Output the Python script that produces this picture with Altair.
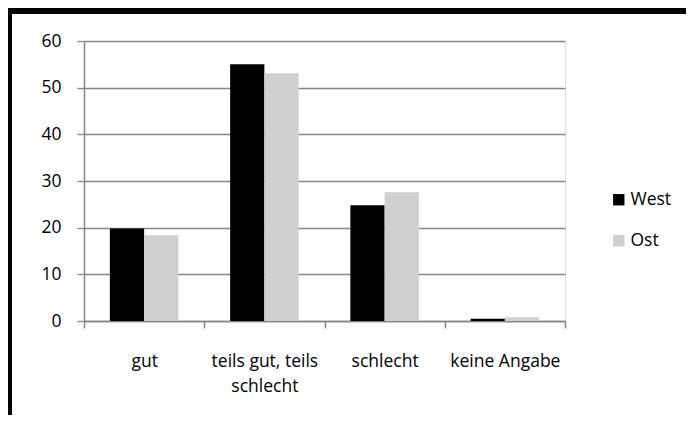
import altair as alt
import pandas as pd

categories = ["gut", "teils gut, teils schlecht", "schlecht", "keine Angabe"]
west = [19.8, 55.0, 24.8, 0.5]
ost = [18.4, 53.1, 27.6, 0.8]
series = ["West", "Ost"]
colors = ["#000000", "#d0d0d0"]

rows = []
for c, w, o in zip(categories, west, ost):
    rows.append({"Kategorie": c, "Region": "West", "Wert": w})
    rows.append({"Kategorie": c, "Region": "Ost", "Wert": o})
df = pd.DataFrame(rows)

FONT = "Open Sans"
GRID = "#868686"
FS = 17.5

bars = alt.Chart(df).mark_bar().encode(
    x=alt.X("Kategorie:N", sort=categories, title=None,
            scale=alt.Scale(paddingInner=0, paddingOuter=0),
            axis=alt.Axis(labelAngle=0, tickBand="extent", tickSize=7,
                          labelPadding=24, labelFontSize=FS, labelLineHeight=25,
                          labelExpr="datum.label == 'teils gut, teils schlecht' ? ['teils gut, teils', 'schlecht'] : datum.label",
                          domainColor=GRID, tickColor=GRID, labelColor="black",
                          labelFont=FONT, grid=False, domainWidth=1.5, tickWidth=1.5)),
    xOffset=alt.XOffset("Region:N", sort=series,
                        scale=alt.Scale(paddingInner=0, paddingOuter=0.7555)),
    y=alt.Y("Wert:Q", title=None,
            scale=alt.Scale(domain=[0, 60]),
            axis=alt.Axis(values=[0, 10, 20, 30, 40, 50, 60], tickSize=7,
                          labelPadding=16, labelFontSize=FS, labelFont=FONT,
                          labelColor="black", grid=True, gridColor=GRID, gridWidth=1.3,
                          domainColor=GRID, tickColor=GRID, domainWidth=1.5, tickWidth=1.3)),
    color=alt.Color("Region:N", sort=series,
                    scale=alt.Scale(domain=series, range=colors),
                    legend=alt.Legend(title=None, orient="none", legendX=526, legendY=150,
                                      symbolType="square", symbolSize=130,
                                      symbolStrokeWidth=0, labelFontSize=FS,
                                      labelFont=FONT, labelColor="black",
                                      rowPadding=22, labelOffset=3)),
)

one = pd.DataFrame({"a": [0]})
frame_left = alt.Chart(one).mark_rule(color="black", strokeWidth=6).encode(
    x=alt.value(-75), y=alt.value(-33), y2=alt.value(400))
frame_top = alt.Chart(one).mark_rule(color="black", strokeWidth=6).encode(
    y=alt.value(-30), x=alt.value(-78), x2=alt.value(700))

chart = alt.layer(bars, frame_left, frame_top).properties(
    width=481, height=280,
    autosize=alt.AutoSizeParams(type="none"),
    padding={"left": 76, "top": 33, "right": 121, "bottom": 94},
).configure_view(stroke=None).configure(background="white")

chart.save("out.html", embed_options={"renderer": "svg", "actions": False})
